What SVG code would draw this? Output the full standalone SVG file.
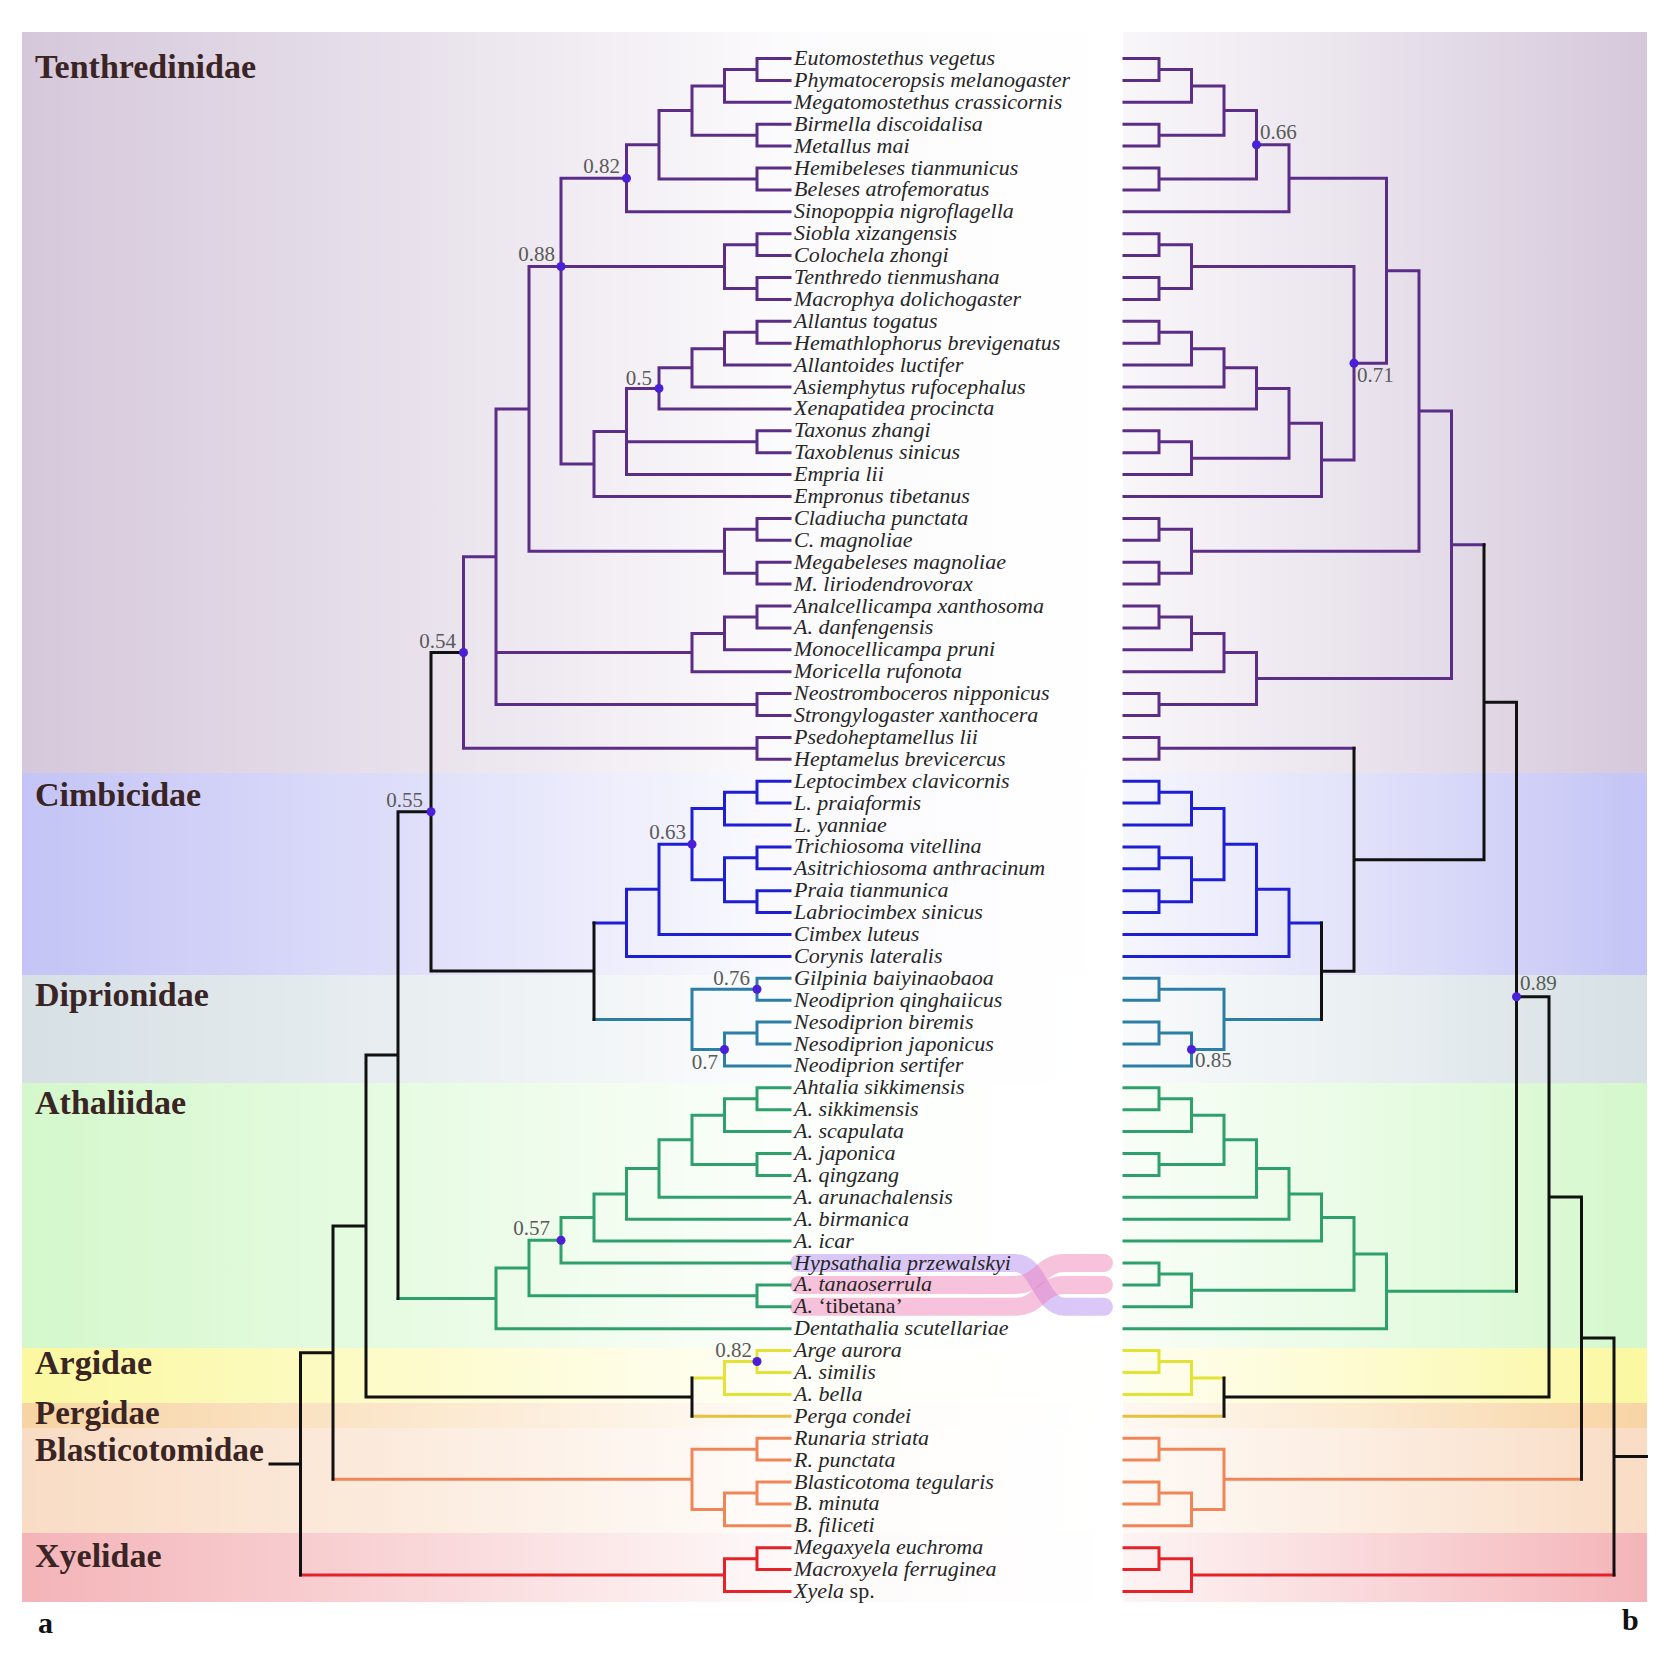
<svg xmlns="http://www.w3.org/2000/svg" width="1675" height="1656" viewBox="0 0 1675 1656">
<defs>
<linearGradient id="fadeL" x1="0" y1="0" x2="1" y2="0">
<stop offset="0" stop-color="#fff" stop-opacity="0"/>
<stop offset="0.35" stop-color="#fff" stop-opacity="0.45"/>
<stop offset="0.7" stop-color="#fff" stop-opacity="0.93"/>
<stop offset="1" stop-color="#fff" stop-opacity="1"/>
</linearGradient>
<linearGradient id="fadeR" x1="0" y1="0" x2="1" y2="0">
<stop offset="0" stop-color="#fff" stop-opacity="0.85"/>
<stop offset="0.45" stop-color="#fff" stop-opacity="0.5"/>
<stop offset="1" stop-color="#fff" stop-opacity="0"/>
</linearGradient>
</defs>
<style>
.br{fill:none;stroke-width:3;stroke-linecap:square}
.t{stroke:#5b2d86}.c{stroke:#1e1ed2}.d{stroke:#2c7ea6}.a{stroke:#2ea06c}
.g{stroke:#e3e336}.p{stroke:#e6c040}.b{stroke:#f08658}.x{stroke:#e52228}.k{stroke:#111}
.lb{font-family:"Liberation Serif",serif;font-style:italic;font-size:22px;fill:#262626}
.up{font-style:normal}
.fam{font-family:"Liberation Serif",serif;font-weight:bold;font-size:34px;fill:#3a2424}
.sp{font-family:"Liberation Serif",serif;font-size:21px;fill:#5a5a5a}
.spe{text-anchor:end}
.dot{fill:#4a1fd8}
.rib{fill:none;stroke-width:18;stroke-linecap:round}
</style>
<rect width="1675" height="1656" fill="#fff"/>
<g id="bands">
<rect x="22" y="32" width="1625" height="741" fill="#d5c8db"/>
<rect x="22" y="773" width="1625" height="202" fill="#c4c4f6"/>
<rect x="22" y="975" width="1625" height="108" fill="#d6e0e5"/>
<rect x="22" y="1083" width="1625" height="265" fill="#d4f8cc"/>
<rect x="22" y="1348" width="1625" height="55" fill="#fbf8a0"/>
<rect x="22" y="1403" width="1625" height="25" fill="#f8d4a4"/>
<rect x="22" y="1428" width="1625" height="105" fill="#f9dcc4"/>
<rect x="22" y="1533" width="1625" height="69" fill="#f4b4b8"/>
<rect x="22" y="32" width="1101" height="1570" fill="url(#fadeL)"/>
<rect x="1123" y="32" width="524" height="1570" fill="url(#fadeR)"/>
</g>
<g id="family-labels">
<text class="fam" x="35" y="78">Tenthredinidae</text>
<text class="fam" x="35" y="806">Cimbicidae</text>
<text class="fam" x="35" y="1006">Diprionidae</text>
<text class="fam" x="35" y="1114">Athaliidae</text>
<text class="fam" x="35" y="1374">Argidae</text>
<text class="fam" x="35" y="1424" style="font-size:33px">Pergidae</text>
<text class="fam" x="35" y="1461" style="font-size:33.5px">Blasticotomidae</text>
<text class="fam" x="35" y="1567">Xyelidae</text>
<text class="fam" x="38" y="1633" style="font-size:30px;fill:#111">a</text>
<text class="fam" x="1622" y="1630" style="font-size:30px;fill:#111">b</text>
</g>
<g id="ribbons">
<path class="rib" stroke="rgba(175,130,240,0.45)" d="M799 1263H1015C1040 1263 1040 1306.8 1065 1306.8H1104"/>
<path class="rib" stroke="rgba(240,120,180,0.45)" d="M799 1284.9H1015C1040 1284.9 1040 1263 1065 1263H1104"/>
<path class="rib" stroke="rgba(240,120,180,0.45)" d="M799 1306.8H1015C1040 1306.8 1040 1284.9 1065 1284.9H1104"/>
</g>
<g id="connectors">
<path class="br t" d="M757 58.5H790M757 80.4H790M757 58.5V80.4M724.5 69.45H757M724.5 102.3H790M724.5 69.45V102.3M757 124.2H790M757 146.1H790M757 124.2V146.1M692 85.9H724.5M692 135.15H757M692 85.9V135.15M757 168H790M757 189.9H790M757 168V189.9M659 110.5H692M659 178.95H757M659 110.5V178.95M626.5 144.7H659M626.5 211.8H790M626.5 144.7V211.8M757 233.7H790M757 255.6H790M757 233.7V255.6M757 277.5H790M757 299.4H790M757 277.5V299.4M724.5 244.65H757M724.5 288.45H757M724.5 244.65V288.45M757 321.3H790M757 343.2H790M757 321.3V343.2M724.5 332.25H757M724.5 365.1H790M724.5 332.25V365.1M692 348.7H724.5M692 387H790M692 348.7V387M659 367.85H692M659 408.9H790M659 367.85V408.9M757 430.8H790M757 452.7H790M757 430.8V452.7M626.5 388.4H659M626.5 441.75H757M626.5 474.6H790M626.5 388.4V474.6M594 431.5H626.5M594 496.5H790M594 431.5V496.5M561 178.3H626.5M561 266.55H724.5M561 464H594M561 178.3V464M757 518.4H790M757 540.3H790M757 518.4V540.3M757 562.2H790M757 584.1H790M757 562.2V584.1M724.5 529.35H757M724.5 573.15H757M724.5 529.35V573.15M529 266.55H561M529 551.25H724.5M529 266.55V551.25M757 606H790M757 627.9H790M757 606V627.9M724.5 616.95H757M724.5 649.8H790M724.5 616.95V649.8M692 633.4H724.5M692 671.7H790M692 633.4V671.7M757 693.6H790M757 715.5H790M757 693.6V715.5M496 408.9H529M496 652.55H692M496 704.55H757M496 408.9V704.55M757 737.4H790M757 759.3H790M757 737.4V759.3M463.5 556.7H496M463.5 748.35H757M463.5 556.7V748.35"/>
<path class="br c" d="M757 781.2H790M757 803.1H790M757 781.2V803.1M724.5 792.15H757M724.5 825H790M724.5 792.15V825M757 846.9H790M757 868.8H790M757 846.9V868.8M757 890.7H790M757 912.6H790M757 890.7V912.6M724.5 857.85H757M724.5 901.65H757M724.5 857.85V901.65M692 808.6H724.5M692 879.75H724.5M692 808.6V879.75M659 844.2H692M659 934.5H790M659 844.2V934.5M626.5 889.35H659M626.5 956.4H790M626.5 889.35V956.4M594 922.9H626.5"/>
<path class="br d" d="M757 978.3H790M757 1000.2H790M757 978.3V1000.2M757 1022.1H790M757 1044H790M757 1022.1V1044M724.5 1033.05H757M724.5 1065.9H790M724.5 1033.05V1065.9M692 989.25H757M692 1049.5H724.5M692 989.25V1049.5M594 1019.4H692"/>
<path class="br a" d="M757 1087.8H790M757 1109.7H790M757 1087.8V1109.7M724.5 1098.75H757M724.5 1131.6H790M724.5 1098.75V1131.6M757 1153.5H790M757 1175.4H790M757 1153.5V1175.4M692 1115.2H724.5M692 1164.45H757M692 1115.2V1164.45M659 1139.8H692M659 1197.3H790M659 1139.8V1197.3M626.5 1168.55H659M626.5 1219.2H790M626.5 1168.55V1219.2M594 1193.9H626.5M594 1241.1H790M594 1193.9V1241.1M561 1217.5H594M561 1263H790M561 1217.5V1263M757 1284.9H790M757 1306.8H790M757 1284.9V1306.8M529 1240.25H561M529 1295.85H757M529 1240.25V1295.85M496 1268.05H529M496 1328.7H790M496 1268.05V1328.7M398 1298.4H496"/>
<path class="br g" d="M757 1350.6H790M757 1372.5H790M757 1350.6V1372.5M724.5 1361.55H757M724.5 1394.4H790M724.5 1361.55V1394.4M692 1377.98H724.5"/>
<path class="br p" d="M692 1416.3H790"/>
<path class="br b" d="M757 1438.2H790M757 1460.1H790M757 1438.2V1460.1M757 1482H790M757 1503.9H790M757 1482V1503.9M724.5 1492.95H757M724.5 1525.8H790M724.5 1492.95V1525.8M692 1449.15H757M692 1509.4H724.5M692 1449.15V1509.4M333 1479.3H692"/>
<path class="br x" d="M757 1547.7H790M757 1569.6H790M757 1547.7V1569.6M724.5 1558.65H757M724.5 1591.5H790M724.5 1558.65V1591.5M300.5 1575.1H724.5"/>
<path class="br k" d="M431 652.5H463.5M431 971.1H594M431 652.5V971.1M594 922.9V1019.4M398 811.8H431M398 811.8V1298.4M366 1055.1H398M366 1397.1H692M366 1055.1V1397.1M692 1377.98V1416.3M333 1226.1H366M333 1226.1V1479.3M300.5 1352.7H333M300.5 1352.7V1575.1M270 1463.9H300.5"/>
<path class="br t" d="M1124 58.5H1159M1124 80.4H1159M1159 58.5V80.4M1159 69.45H1191.5M1124 102.3H1191.5M1191.5 69.45V102.3M1124 124.2H1159M1124 146.1H1159M1159 124.2V146.1M1191.5 85.9H1224M1159 135.15H1224M1224 85.9V135.15M1124 168H1159M1124 189.9H1159M1159 168V189.9M1224 110.5H1256.5M1159 178.95H1256.5M1256.5 110.5V178.95M1256.5 144.7H1289M1124 211.8H1289M1289 144.7V211.8M1124 233.7H1159M1124 255.6H1159M1159 233.7V255.6M1124 277.5H1159M1124 299.4H1159M1159 277.5V299.4M1159 244.65H1191.5M1159 288.45H1191.5M1191.5 244.65V288.45M1124 321.3H1159M1124 343.2H1159M1159 321.3V343.2M1159 332.25H1191.5M1124 365.1H1191.5M1191.5 332.25V365.1M1191.5 348.7H1224M1124 387H1224M1224 348.7V387M1224 367.85H1256.5M1124 408.9H1256.5M1256.5 367.85V408.9M1124 430.8H1159M1124 452.7H1159M1159 430.8V452.7M1159 441.75H1191.5M1124 474.6H1191.5M1191.5 441.75V474.6M1256.5 388.4H1289M1191.5 458.2H1289M1289 388.4V458.2M1289 423.3H1321.5M1124 496.5H1321.5M1321.5 423.3V496.5M1191.5 266.55H1354M1321.5 459.9H1354M1354 266.55V459.9M1289 178.3H1386.5M1354 363.2H1386.5M1386.5 178.3V363.2M1124 518.4H1159M1124 540.3H1159M1159 518.4V540.3M1124 562.2H1159M1124 584.1H1159M1159 562.2V584.1M1159 529.35H1191.5M1159 573.15H1191.5M1191.5 529.35V573.15M1386.5 270.75H1419M1191.5 551.25H1419M1419 270.75V551.25M1124 606H1159M1124 627.9H1159M1159 606V627.9M1159 616.95H1191.5M1124 649.8H1191.5M1191.5 616.95V649.8M1191.5 633.4H1224M1124 671.7H1224M1224 633.4V671.7M1124 693.6H1159M1124 715.5H1159M1159 693.6V715.5M1224 652.55H1256.5M1159 704.55H1256.5M1256.5 652.55V704.55M1419 411H1451.5M1256.5 678.55H1451.5M1451.5 411V678.55M1451.5 544.8H1484M1124 737.4H1159M1124 759.3H1159M1159 737.4V759.3M1159 748.35H1354"/>
<path class="br c" d="M1124 781.2H1159M1124 803.1H1159M1159 781.2V803.1M1159 792.15H1191.5M1124 825H1191.5M1191.5 792.15V825M1124 846.9H1159M1124 868.8H1159M1159 846.9V868.8M1124 890.7H1159M1124 912.6H1159M1159 890.7V912.6M1159 857.85H1191.5M1159 901.65H1191.5M1191.5 857.85V901.65M1191.5 808.6H1224M1191.5 879.75H1224M1224 808.6V879.75M1224 844.2H1256.5M1124 934.5H1256.5M1256.5 844.2V934.5M1256.5 889.35H1289M1124 956.4H1289M1289 889.35V956.4M1289 922.9H1321.5"/>
<path class="br d" d="M1124 978.3H1159M1124 1000.2H1159M1159 978.3V1000.2M1124 1022.1H1159M1124 1044H1159M1159 1022.1V1044M1159 1033.05H1191.5M1124 1065.9H1191.5M1191.5 1033.05V1065.9M1159 989.25H1224M1191.5 1049.5H1224M1224 989.25V1049.5M1224 1019.4H1321.5"/>
<path class="br a" d="M1124 1087.8H1159M1124 1109.7H1159M1159 1087.8V1109.7M1159 1098.75H1191.5M1124 1131.6H1191.5M1191.5 1098.75V1131.6M1124 1153.5H1159M1124 1175.4H1159M1159 1153.5V1175.4M1191.5 1115.2H1224M1159 1164.45H1224M1224 1115.2V1164.45M1224 1139.8H1256.5M1124 1197.3H1256.5M1256.5 1139.8V1197.3M1256.5 1168.55H1289M1124 1219.2H1289M1289 1168.55V1219.2M1289 1193.9H1321.5M1124 1241.1H1321.5M1321.5 1193.9V1241.1M1124 1263H1159M1124 1284.9H1159M1159 1263V1284.9M1159 1273.95H1191.5M1124 1306.8H1191.5M1191.5 1273.95V1306.8M1321.5 1217.5H1354M1191.5 1290.35H1354M1354 1217.5V1290.35M1354 1253.9H1386.5M1124 1328.7H1386.5M1386.5 1253.9V1328.7M1386.5 1291.3H1516.5"/>
<path class="br g" d="M1124 1350.6H1159M1124 1372.5H1159M1159 1350.6V1372.5M1159 1361.55H1191.5M1124 1394.4H1191.5M1191.5 1361.55V1394.4M1191.5 1377.98H1224"/>
<path class="br p" d="M1124 1416.3H1224"/>
<path class="br b" d="M1124 1438.2H1159M1124 1460.1H1159M1159 1438.2V1460.1M1124 1482H1159M1124 1503.9H1159M1159 1482V1503.9M1159 1492.95H1191.5M1124 1525.8H1191.5M1191.5 1492.95V1525.8M1159 1449.15H1224M1191.5 1509.4H1224M1224 1449.15V1509.4M1224 1479.3H1581.5"/>
<path class="br x" d="M1124 1547.7H1159M1124 1569.6H1159M1159 1547.7V1569.6M1159 1558.65H1191.5M1124 1591.5H1191.5M1191.5 1558.65V1591.5M1191.5 1575.1H1614"/>
<path class="br k" d="M1354 748.35V971.15M1321.5 922.9V1019.4M1321.5 971.15H1354M1354 859.75H1484M1484 544.8V859.75M1484 702.3H1516.5M1516.5 702.3V1291.3M1516.5 996.8H1549M1549 996.8V1397.1M1224 1377.98V1416.3M1224 1397.1H1549M1549 1196.95H1581.5M1581.5 1196.95V1479.3M1581.5 1338.1H1614M1614 1338.1V1575.1M1614 1456.6H1646.5"/>
</g>
<g id="support">
<circle class="dot" cx="626.5" cy="178.3" r="4.5"/><text class="sp spe" x="620" y="173">0.82</text>
<circle class="dot" cx="561" cy="266.55" r="4.5"/><text class="sp spe" x="555" y="261">0.88</text>
<circle class="dot" cx="659" cy="388.4" r="4.5"/><text class="sp spe" x="652" y="385">0.5</text>
<circle class="dot" cx="463.5" cy="652.5" r="4.5"/><text class="sp spe" x="456" y="648">0.54</text>
<circle class="dot" cx="431" cy="811.8" r="4.5"/><text class="sp spe" x="423" y="807">0.55</text>
<circle class="dot" cx="692" cy="844.2" r="4.5"/><text class="sp spe" x="686" y="839">0.63</text>
<circle class="dot" cx="757" cy="989.25" r="4.5"/><text class="sp spe" x="750" y="985">0.76</text>
<circle class="dot" cx="724.5" cy="1049.5" r="4.5"/><text class="sp spe" x="718" y="1069">0.7</text>
<circle class="dot" cx="561" cy="1240.25" r="4.5"/><text class="sp spe" x="550" y="1235">0.57</text>
<circle class="dot" cx="757" cy="1361.55" r="4.5"/><text class="sp spe" x="752" y="1357">0.82</text>
<circle class="dot" cx="1256.5" cy="144.7" r="4.5"/><text class="sp" x="1260" y="139">0.66</text>
<circle class="dot" cx="1354" cy="363.2" r="4.5"/><text class="sp" x="1357" y="382">0.71</text>
<circle class="dot" cx="1191.5" cy="1049.5" r="4.5"/><text class="sp" x="1195" y="1067">0.85</text>
<circle class="dot" cx="1516.5" cy="996.8" r="4.5"/><text class="sp" x="1520" y="990">0.89</text>
</g>
<g id="taxa" class="lb">
<text x="794" y="65">Eutomostethus vegetus</text>
<text x="794" y="86.9">Phymatoceropsis melanogaster</text>
<text x="794" y="108.8">Megatomostethus crassicornis</text>
<text x="794" y="130.7">Birmella discoidalisa</text>
<text x="794" y="152.6">Metallus mai</text>
<text x="794" y="174.5">Hemibeleses tianmunicus</text>
<text x="794" y="196.4">Beleses atrofemoratus</text>
<text x="794" y="218.3">Sinopoppia nigroflagella</text>
<text x="794" y="240.2">Siobla xizangensis</text>
<text x="794" y="262.1">Colochela zhongi</text>
<text x="794" y="284">Tenthredo tienmushana</text>
<text x="794" y="305.9">Macrophya dolichogaster</text>
<text x="794" y="327.8">Allantus togatus</text>
<text x="794" y="349.7">Hemathlophorus brevigenatus</text>
<text x="794" y="371.6">Allantoides luctifer</text>
<text x="794" y="393.5">Asiemphytus rufocephalus</text>
<text x="794" y="415.4">Xenapatidea procincta</text>
<text x="794" y="437.3">Taxonus zhangi</text>
<text x="794" y="459.2">Taxoblenus sinicus</text>
<text x="794" y="481.1">Empria lii</text>
<text x="794" y="503">Empronus tibetanus</text>
<text x="794" y="524.9">Cladiucha punctata</text>
<text x="794" y="546.8">C. magnoliae</text>
<text x="794" y="568.7">Megabeleses magnoliae</text>
<text x="794" y="590.6">M. liriodendrovorax</text>
<text x="794" y="612.5">Analcellicampa xanthosoma</text>
<text x="794" y="634.4">A. danfengensis</text>
<text x="794" y="656.3">Monocellicampa pruni</text>
<text x="794" y="678.2">Moricella rufonota</text>
<text x="794" y="700.1">Neostromboceros nipponicus</text>
<text x="794" y="722">Strongylogaster xanthocera</text>
<text x="794" y="743.9">Psedoheptamellus lii</text>
<text x="794" y="765.8">Heptamelus brevicercus</text>
<text x="794" y="787.7">Leptocimbex clavicornis</text>
<text x="794" y="809.6">L. praiaformis</text>
<text x="794" y="831.5">L. yanniae</text>
<text x="794" y="853.4">Trichiosoma vitellina</text>
<text x="794" y="875.3">Asitrichiosoma anthracinum</text>
<text x="794" y="897.2">Praia tianmunica</text>
<text x="794" y="919.1">Labriocimbex sinicus</text>
<text x="794" y="941">Cimbex luteus</text>
<text x="794" y="962.9">Corynis lateralis</text>
<text x="794" y="984.8">Gilpinia baiyinaobaoa</text>
<text x="794" y="1006.7">Neodiprion qinghaiicus</text>
<text x="794" y="1028.6">Nesodiprion biremis</text>
<text x="794" y="1050.5">Nesodiprion japonicus</text>
<text x="794" y="1072.4">Neodiprion sertifer</text>
<text x="794" y="1094.3">Ahtalia sikkimensis</text>
<text x="794" y="1116.2">A. sikkimensis</text>
<text x="794" y="1138.1">A. scapulata</text>
<text x="794" y="1160">A. japonica</text>
<text x="794" y="1181.9">A. qingzang</text>
<text x="794" y="1203.8">A. arunachalensis</text>
<text x="794" y="1225.7">A. birmanica</text>
<text x="794" y="1247.6">A. icar</text>
<text x="794" y="1269.5">Hypsathalia przewalskyi</text>
<text x="794" y="1291.4">A. tanaoserrula</text>
<text x="794" y="1313.3">A. <tspan class="up">‘tibetana’</tspan></text>
<text x="794" y="1335.2">Dentathalia scutellariae</text>
<text x="794" y="1357.1">Arge aurora</text>
<text x="794" y="1379">A. similis</text>
<text x="794" y="1400.9">A. bella</text>
<text x="794" y="1422.8">Perga condei</text>
<text x="794" y="1444.7">Runaria striata</text>
<text x="794" y="1466.6">R. punctata</text>
<text x="794" y="1488.5">Blasticotoma tegularis</text>
<text x="794" y="1510.4">B. minuta</text>
<text x="794" y="1532.3">B. filiceti</text>
<text x="794" y="1554.2">Megaxyela euchroma</text>
<text x="794" y="1576.1">Macroxyela ferruginea</text>
<text x="794" y="1598">Xyela <tspan class="up">sp.</tspan></text>
</g>
</svg>
